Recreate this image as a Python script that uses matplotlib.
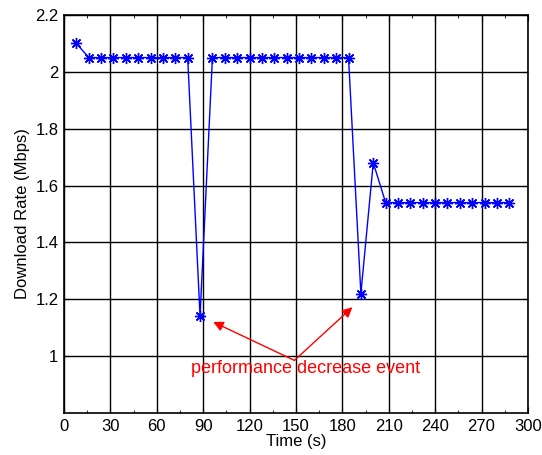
import matplotlib
matplotlib.use("Agg")
import matplotlib.pyplot as plt
import numpy as np

# time (s) and download rate (Mbps), one sample every 8 s
time_s = np.arange(8, 289, 8)
rate = ([2.10] + [2.05] * 9 + [1.14] + [2.05] * 12
        + [1.22, 1.68] + [1.54] * 11)

x_ticks = np.arange(0, 301, 30)
y_ticks = [1.0, 1.2, 1.4, 1.6, 1.8, 2.0, 2.2]

plt.rcParams['font.family'] = ['Liberation Sans', 'DejaVu Sans']

fig = plt.figure(figsize=(5.42, 4.55), dpi=100)
ax = fig.add_axes([0.118, 0.0923, 0.856, 0.875])

ax.plot(time_s, rate, color='blue', linewidth=1.0,
        marker=(8, 2, 0), markersize=8, markeredgewidth=1.0)

ax.set_xlim(0, 300)
ax.set_ylim(0.8, 2.2)
ax.set_xticks(x_ticks)
ax.set_xticks(np.arange(15, 300, 30), minor=True)
ax.set_yticks(y_ticks)
ax.set_yticklabels(['%g' % v for v in y_ticks])
ax.grid(True, which='major', color='black', linewidth=1.0, linestyle='-')
ax.tick_params(direction='in', which='both', top=True, right=True,
               labelsize=12, length=4, pad=4)
ax.tick_params(which='minor', length=2)
for s in ax.spines.values():
    s.set_linewidth(1.2)

ax.set_xlabel('Time (s)', fontsize=12, labelpad=0)
ax.set_ylabel('Download Rate (Mbps)', fontsize=12, labelpad=4)

ax.annotate('', xy=(96.5, 1.12), xytext=(149, 0.985),
            arrowprops=dict(arrowstyle='-|>', color='red', lw=1.0,
                            mutation_scale=15, shrinkA=0, shrinkB=0))
ax.annotate('', xy=(186.5, 1.172), xytext=(149, 0.985),
            arrowprops=dict(arrowstyle='-|>', color='red', lw=1.0,
                            mutation_scale=15, shrinkA=0, shrinkB=0))
ax.text(156, 0.958, 'performance decrease event', color='red',
        fontsize=13, ha='center', va='center')

fig.savefig('out.png', dpi=100)
